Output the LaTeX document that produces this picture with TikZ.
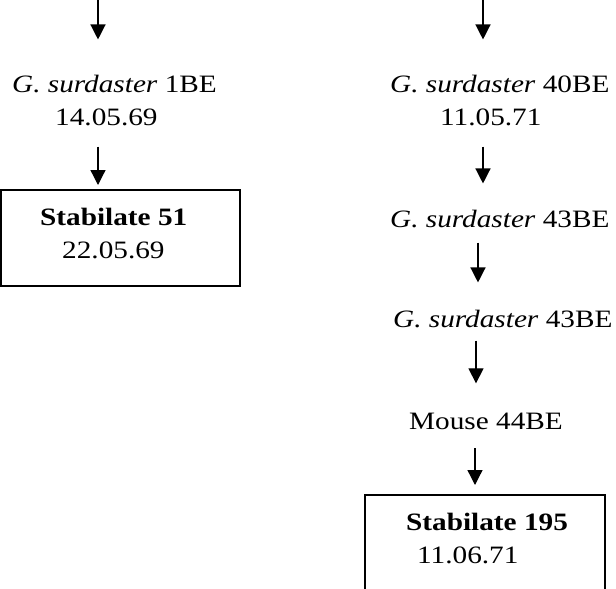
\documentclass[tikz,border=0pt]{standalone}
\usepackage{fontspec}
\setmainfont{Liberation Serif}[FakeStretch=1.17]
\usetikzlibrary{arrows.meta}

\tikzset{
  lbl/.style={inner sep=0pt,anchor=base west,align=left,
    font=\fontsize{25}{33}\selectfont},
  stab/.style={draw,line width=1.2pt,inner sep=0pt,outer sep=0pt,
    anchor=north west,minimum width=#1,minimum height=96pt},
  flow/.style={line width=1.3pt,-{Triangle[width=15pt,length=15pt]}}
}

\begin{document}
\begin{tikzpicture}[x=1pt,y=-1pt]
\useasboundingbox (0,0) rectangle (616,589);
\clip (0,0) rectangle (616,589);
\coordinate (L) at (98,0);
\coordinate (R) at (483,0);
\coordinate (Ra) at (478,0);
\coordinate (Rb) at (476,0);
\coordinate (Rc) at (475,0);

\node[lbl] (t1) at (12,125) {\textit{G. surdaster} 1BE\\\hspace*{43pt}14.05.69};
\node[stab=239pt] (b1) at (1,190) {};
\node[lbl] (s1) at (40,258) {\textbf{Stabilate 51}\\\hspace*{22pt}22.05.69};

\node[lbl] (r1) at (390,125) {\textit{G. surdaster} 40BE\\\hspace*{50pt}11.05.71};
\node[lbl] (r2) at (390,227) {\textit{G. surdaster} 43BE};
\node[lbl] (r3) at (393,327) {\textit{G. surdaster} 43BE};
\node[lbl] (r4) at (409,429) {Mouse 44BE};
\node[stab=240pt] (b2) at (365,495) {};
\node[lbl] (s2) at (406,563) {\textbf{Stabilate 195}\\\hspace*{11pt}11.06.71};

\draw[flow,shorten >=35pt] (L) -- (t1.north -| L);
\draw[flow,shorten <=21pt,shorten >=5pt] (t1.south -| L) -- (b1.north -| L);
\draw[flow,shorten >=35pt] (R) -- (r1.north -| R);
\draw[flow,shorten <=21pt,shorten >=26pt] (r1.south -| R) -- (r2.north -| R);
\draw[flow,shorten <=15pt,shorten >=27pt] (r2.south -| Ra) -- (r3.north -| Ra);
\draw[flow,shorten <=13pt,shorten >=29pt] (r3.south -| Rb) -- (r4.north -| Rb);
\draw[flow,shorten <=19pt,shorten >=10pt] (r4.south -| Rc) -- (b2.north -| Rc);
\end{tikzpicture}
\end{document}
